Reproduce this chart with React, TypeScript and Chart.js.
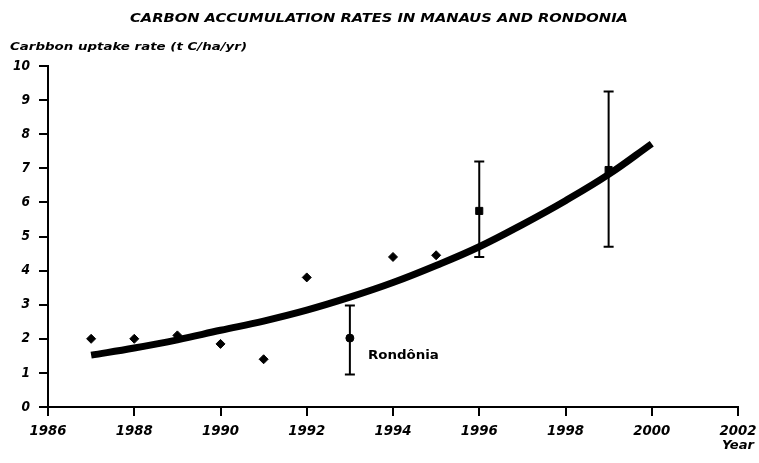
import React, { useEffect, useRef } from "react";
import { Chart, registerables } from "chart.js";

Chart.register(...registerables);

const TITLE = "CARBON ACCUMULATION RATES IN MANAUS AND RONDONIA";
const Y_TITLE = "Carbbon uptake rate (t C/ha/yr)";
const X_TITLE = "Year";

// Manaus annual points (diamonds)
const manausYears = [1987, 1988, 1989, 1990, 1991, 1992, 1994, 1995];
const manausValues = [2.0, 2.0, 2.1, 1.85, 1.4, 3.8, 4.4, 4.45];

// Manaus points with error bars (squares)
const squareYears = [1996, 1999];
const squareValues = [5.75, 6.95];
const squareLow = [4.4, 4.7];
const squareHigh = [7.2, 9.25];

// Rondônia point
const rondoniaYears = [1993];
const rondoniaValues = [2.02];
const rondoniaLow = [0.95];
const rondoniaHigh = [2.98];
const RONDONIA_LABEL = "Rondônia";

// Fitted curve
const curveYears = [1987, 1988, 1989, 1990, 1991, 1992, 1993, 1994, 1995, 1996, 1997, 1998, 1999, 2000];
const curveValues = [1.52, 1.73, 1.97, 2.25, 2.52, 2.84, 3.22, 3.65, 4.15, 4.7, 5.35, 6.05, 6.82, 7.72];

const xTicks = [1986, 1988, 1990, 1992, 1994, 1996, 1998, 2000, 2002];
const yTicks = [0, 1, 2, 3, 4, 5, 6, 7, 8, 9, 10];

const FONT = "'DejaVu Sans', Arial, sans-serif";

const pairs = (xs: number[], ys: number[]) => xs.map((x, i) => ({ x, y: ys[i] }));

// draw text stretched/squeezed horizontally to a target width
function fitText(ctx: CanvasRenderingContext2D, text: string, x: number, y: number, width: number) {
  const w = ctx.measureText(text).width;
  const s = width / w;
  ctx.save();
  ctx.translate(x, y);
  ctx.scale(s, 1);
  ctx.textAlign = "left";
  ctx.fillText(text, 0, 0);
  ctx.restore();
}

const overlayPlugin = {
  id: "overlay",
  afterDatasetsDraw(chart: any) {
    const ctx = chart.ctx;
    const xs = chart.scales.x;
    const ys = chart.scales.y;
    ctx.save();
    ctx.strokeStyle = "#000";
    ctx.lineWidth = 2;
    const drawErr = (x: number, lo: number, hi: number, cap: number) => {
      const px = xs.getPixelForValue(x);
      const pl = ys.getPixelForValue(lo);
      const ph = ys.getPixelForValue(hi);
      ctx.beginPath();
      ctx.moveTo(px, pl);
      ctx.lineTo(px, ph);
      ctx.moveTo(px - cap, pl);
      ctx.lineTo(px + cap, pl);
      ctx.moveTo(px - cap, ph);
      ctx.lineTo(px + cap, ph);
      ctx.stroke();
    };
    squareYears.forEach((x, i) => drawErr(x, squareLow[i], squareHigh[i], 5));
    rondoniaYears.forEach((x, i) => drawErr(x, rondoniaLow[i], rondoniaHigh[i], 5));

    ctx.fillStyle = "#000";
    ctx.textBaseline = "middle";

    // Rondônia label
    ctx.font = `bold 12px ${FONT}`;
    const rx = xs.getPixelForValue(rondoniaYears[0]);
    const ry = ys.getPixelForValue(rondoniaValues[0]);
    fitText(ctx, RONDONIA_LABEL, rx + 18, ry + 18, 71);

    // Tick labels
    ctx.font = `italic bold 14px ${FONT}`;
    xTicks.forEach((v) => {
      const px = xs.getPixelForValue(v);
      const w = 37;
      fitText(ctx, String(v), px - w / 2, 431, w);
    });
    yTicks.forEach((v) => {
      const py = ys.getPixelForValue(v);
      const t = String(v);
      const w = t.length === 2 ? 17 : 8.5;
      fitText(ctx, t, 30 - w, py, w);
    });

    // Titles
    ctx.font = `italic bold 12px ${FONT}`;
    fitText(ctx, TITLE, 130, 19, 498);
    ctx.font = `italic bold 11px ${FONT}`;
    fitText(ctx, Y_TITLE, 10, 47, 237);
    ctx.font = `italic bold 13px ${FONT}`;
    fitText(ctx, X_TITLE, 722, 446, 32);
    ctx.restore();
  },
};

export default function App() {
  const ref = useRef<HTMLCanvasElement | null>(null);
  useEffect(() => {
    if (!ref.current) return;
    const chart = new Chart(ref.current, {
      type: "scatter",
      data: {
        datasets: [
          {
            type: "line",
            data: pairs(curveYears, curveValues),
            borderColor: "#000",
            borderWidth: 7,
            tension: 0.4,
            pointRadius: 0,
            fill: false,
          } as any,
          {
            data: pairs(manausYears, manausValues),
            pointStyle: "rectRot",
            radius: 4.5,
            backgroundColor: "#000",
            borderColor: "#000",
          },
          {
            data: pairs(squareYears, squareValues),
            pointStyle: "rect",
            radius: 5,
            backgroundColor: "#000",
            borderColor: "#000",
          },
          {
            data: pairs(rondoniaYears, rondoniaValues),
            pointStyle: "circle",
            radius: 4,
            backgroundColor: "#000",
            borderColor: "#000",
          },
        ],
      },
      options: {
        responsive: false,
        animation: false,
        events: [],
        layout: { padding: { left: 0, top: 66, right: 21, bottom: 0 } },
        plugins: { legend: { display: false }, tooltip: { enabled: false }, title: { display: false } },
        scales: {
          x: {
            type: "linear",
            min: 1986,
            max: 2002,
            afterBuildTicks: (s: any) => {
              s.ticks = xTicks.map((v) => ({ value: v }));
            },
            afterFit: (s: any) => {
              s.height = 56;
            },
            ticks: { display: false, autoSkip: false },
            grid: { drawOnChartArea: false, drawTicks: true, tickLength: 9, color: "#000", lineWidth: 2 },
            border: { display: true, color: "#000", width: 2 },
          },
          y: {
            type: "linear",
            min: 0,
            max: 10,
            afterBuildTicks: (s: any) => {
              s.ticks = yTicks.map((v) => ({ value: v }));
            },
            afterFit: (s: any) => {
              s.width = 48;
            },
            ticks: { display: false, autoSkip: false },
            grid: { drawOnChartArea: false, drawTicks: true, tickLength: 9, color: "#000", lineWidth: 2 },
            border: { display: true, color: "#000", width: 2 },
          },
        },
      },
      plugins: [overlayPlugin],
    });
    return () => chart.destroy();
  }, []);
  return (
    <div style={{ position: "fixed", left: 0, top: 0, width: 759, height: 463, background: "#fff" }}>
      <canvas ref={ref} width={759} height={463} style={{ width: 759, height: 463, display: "block" }} />
    </div>
  );
}
